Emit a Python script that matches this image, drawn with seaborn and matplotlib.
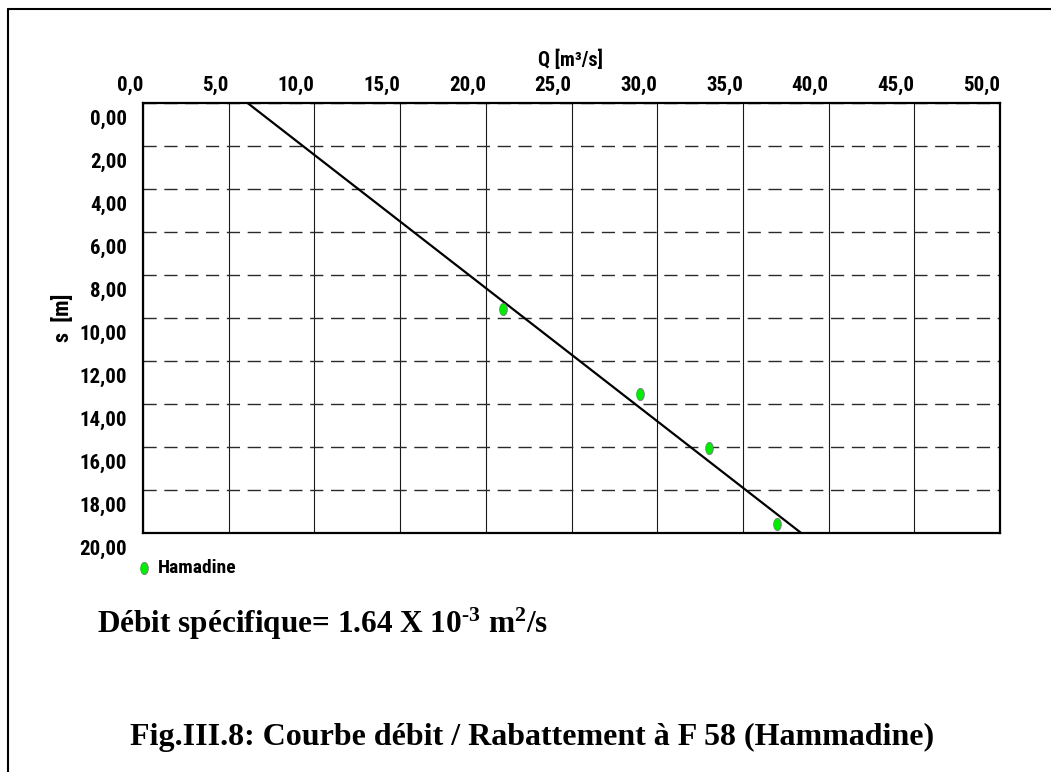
import numpy as np
import pandas as pd
import matplotlib
matplotlib.use("Agg")
import matplotlib.pyplot as plt
import matplotlib.transforms as mtransforms
from matplotlib.path import Path
from matplotlib.lines import Line2D
import seaborn as sns

# ---- data ----
q_points = [21.0, 29.0, 33.0, 37.0]          # Q [m3/s]
s_points = [9.6, 13.55, 16.05, 19.6]         # s [m]
series_name = "Hamadine"
line_q = [6.1, 38.4]                          # fitted line end points
line_s = [0.0, 20.0]
x_ticks = [0, 5, 10, 15, 20, 25, 30, 35, 40, 45, 50]
x_tick_labels = ["0,0", "5,0", "10,0", "15,0", "20,0", "25,0", "30,0", "35,0", "40,0", "45,0", "50,0"]
y_ticks = [0, 2, 4, 6, 8, 10, 12, 14, 16, 18, 20]
y_tick_labels = ["0,00", "2,00", "4,00", "6,00", "8,00", "10,00", "12,00", "14,00", "16,00", "18,00", "20,00"]

sns.set_theme(style="white")
narrow = ["Liberation Sans Narrow", "Arial Narrow", "Roboto Condensed", "Liberation Sans", "DejaVu Sans"]
serif = ["Liberation Serif", "DejaVu Serif"]
plt.rcParams["font.family"] = narrow
plt.rcParams["text.color"] = "black"
plt.rcParams["axes.labelcolor"] = "black"
plt.rcParams["xtick.color"] = "black"
plt.rcParams["ytick.color"] = "black"
plt.rcParams["mathtext.fontset"] = "custom"
plt.rcParams["mathtext.rm"] = "Liberation Serif:bold"
plt.rcParams["mathtext.bf"] = "Liberation Serif:bold"
plt.rcParams["mathtext.it"] = "Liberation Serif:bold"

W, H, DPI = 1051, 772, 100
fig = plt.figure(figsize=(W / DPI, H / DPI), dpi=DPI)
fig.patch.set_facecolor("white")

# axes box in pixels: left 143, right 1000, top 103, bottom 533
L, R, T, B = 143, 1000, 103, 533
ax = fig.add_axes([L / W, 1 - B / H, (R - L) / W, (B - T) / H])

df_pts = pd.DataFrame({"Q": q_points, "s": s_points, "serie": series_name})
df_line = pd.DataFrame({"Q": line_q, "s": line_s})

# grid
for xv in x_ticks:
    ax.axvline(xv, color="#1a1a1a", lw=0.8, zorder=1)
for yv in y_ticks:
    ax.axhline(yv, color="#2a2a2a", lw=1.0, ls=(0, (9.5, 5.5)), zorder=1)

sns.lineplot(data=df_line, x="Q", y="s", color="black", lw=1.6, ax=ax, zorder=3,
             sort=False, legend=False)

# elliptic marker (taller than wide)
theta = np.linspace(0, 2 * np.pi, 40)
ell = Path(np.column_stack([0.62 * np.cos(theta), np.sin(theta)]), closed=True)
sns.scatterplot(data=df_pts, x="Q", y="s", marker=ell, s=80, color="#00ee00",
                edgecolor="#7a6a8a", linewidth=0.5, ax=ax, zorder=4, label=series_name)

ax.set_xlim(0, 50)
ax.set_ylim(20, 0)
ax.xaxis.tick_top()
ax.xaxis.set_label_position("top")
ax.set_xticks(x_ticks)
ax.set_xticklabels(x_tick_labels, fontsize=15, fontweight="bold", ha="right")
ax.set_yticks(y_ticks)
ax.set_yticklabels(y_tick_labels, fontsize=15, fontweight="bold")
ax.tick_params(axis="both", length=0, colors="black")
ax.tick_params(axis="x", pad=6)
ax.tick_params(axis="y", pad=11.5)
off = mtransforms.ScaledTranslation(0, -0.14, fig.dpi_scale_trans)
for lab in ax.get_yticklabels():
    lab.set_transform(lab.get_transform() + off)

ax.set_xlabel("Q [m³/s]", fontsize=14.5, fontweight="bold", va="baseline")
ax.xaxis.set_label_coords((571 - L) / (R - L), (B - 66) / (B - T))
ax.set_ylabel("s  [m]", fontsize=16, fontweight="bold", va="center")
ax.yaxis.set_label_coords((63 - L) / (R - L), 0.5)

for sp in ax.spines.values():
    sp.set_visible(True)
    sp.set_color("black")
    sp.set_linewidth(1.6)

# legend below the axes
leg = ax.legend(loc="center left", bbox_to_anchor=(136 / W, 1 - 568 / H),
                bbox_transform=fig.transFigure, frameon=False, borderpad=0,
                borderaxespad=0, handlelength=0.8, handletextpad=0.35,
                prop={"family": narrow, "weight": "bold", "size": 14})

# texts
fig.text(97 / W, 1 - 633 / H,
         "Débit spécifique= 1.64 X 10$^{\u2010\\mathbf{3}}$ m$^{\\mathbf{2}}$/s",
         family=serif, fontweight="bold", fontsize=22.5, ha="left", va="baseline",
         color="black")
fig.text(532 / W, 1 - 745 / H,
         "Fig.III.8: Courbe débit / Rabattement à F 58 (Hammadine)",
         family=serif, fontweight="bold", fontsize=23, ha="center", va="baseline",
         color="black")

# page border (left and top edges)
fig.add_artist(Line2D([8 / W, 8 / W], [0, 1 - 9 / H], transform=fig.transFigure,
                      color="black", lw=1.5))
fig.add_artist(Line2D([8 / W, 1], [1 - 9 / H, 1 - 9 / H], transform=fig.transFigure,
                      color="black", lw=1.5))

fig.savefig("out.png", dpi=DPI, facecolor="white")
